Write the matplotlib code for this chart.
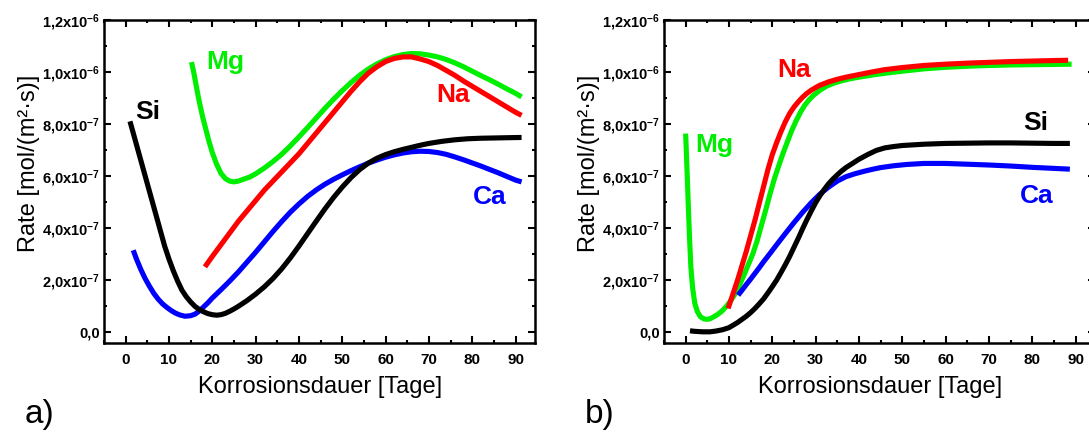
import numpy as np
import matplotlib
matplotlib.use("Agg")
import matplotlib.pyplot as plt
from matplotlib.ticker import MultipleLocator

plt.rcParams['font.family'] = ['Liberation Sans', 'DejaVu Sans']
plt.rcParams['mathtext.fontset'] = 'custom'
plt.rcParams['mathtext.rm'] = 'Liberation Sans:bold'
plt.rcParams['mathtext.it'] = 'Liberation Sans:bold'
plt.rcParams['mathtext.bf'] = 'Liberation Sans:bold'

# ---------------- data (rates in units of 1e-7 mol/(m^2 s)) ----------------
# panel a
a_si_days = [1, 2, 3, 4, 5, 6, 7, 8, 9, 10, 11, 12, 13, 14, 15, 16, 17, 18, 19, 20, 21, 22, 23, 24, 25, 26, 28, 30, 32, 34, 36, 38, 40, 42, 44, 46, 48, 50, 52, 54, 56, 58, 60, 62, 64, 66, 68, 70, 73, 76, 79, 82, 85, 88, 91.4]
a_si_rate = [8.1, 7.5, 6.9, 6.3, 5.7, 5.1, 4.5, 3.9, 3.3, 2.8, 2.35, 1.95, 1.6, 1.35, 1.15, 0.98, 0.86, 0.77, 0.7, 0.66, 0.64, 0.66, 0.71, 0.79, 0.88, 0.98, 1.2, 1.45, 1.73, 2.05, 2.42, 2.84, 3.3, 3.78, 4.26, 4.73, 5.17, 5.57, 5.93, 6.24, 6.49, 6.68, 6.82, 6.93, 7.02, 7.1, 7.18, 7.25, 7.33, 7.39, 7.43, 7.45, 7.46, 7.47, 7.48]

a_ca_days = [1.75, 2.5, 3.5, 4.5, 5.5, 6.5, 7.5, 8.5, 9.5, 10.5, 11.5, 12.5, 13.7, 15, 16, 17, 18, 19, 20, 22, 24, 26, 28, 30, 32, 34, 36, 38, 40, 42, 44, 46, 48, 50, 52, 54, 56, 58, 60, 62, 64, 66, 68, 70, 72, 74, 76, 78, 80, 82, 84, 86, 88, 90, 91.4]
a_ca_rate = [3.14, 2.8, 2.4, 2.05, 1.75, 1.48, 1.26, 1.08, 0.94, 0.82, 0.72, 0.65, 0.6, 0.62, 0.68, 0.8, 0.96, 1.12, 1.3, 1.62, 1.95, 2.3, 2.68, 3.06, 3.46, 3.86, 4.24, 4.6, 4.92, 5.21, 5.46, 5.68, 5.87, 6.04, 6.2, 6.35, 6.49, 6.61, 6.72, 6.81, 6.88, 6.93, 6.95, 6.94, 6.9, 6.83, 6.73, 6.62, 6.5, 6.38, 6.25, 6.12, 5.98, 5.84, 5.77]

a_na_days = [18.3, 20, 22, 24, 26, 28, 30, 32, 34, 36, 38, 40, 42, 44, 46, 48, 50, 52, 54, 56, 58, 60, 62, 64, 66, 68, 70, 72, 74, 76, 78, 80, 82, 84, 86, 88, 90, 91.4]
a_na_rate = [2.5, 2.9, 3.35, 3.8, 4.25, 4.65, 5.05, 5.45, 5.8, 6.15, 6.5, 6.85, 7.25, 7.65, 8.05, 8.45, 8.85, 9.25, 9.62, 9.95, 10.2, 10.4, 10.52, 10.58, 10.58, 10.5, 10.4, 10.25, 10.06, 9.87, 9.65, 9.45, 9.25, 9.05, 8.85, 8.65, 8.45, 8.33]

a_mg_days = [15.2, 15.7, 16.2, 16.7, 17.2, 17.8, 18.5, 19.2, 20, 21, 22, 23, 24, 25, 26, 27, 28.7, 30, 32, 34, 36, 38, 40, 42, 44, 46, 48, 50, 52, 54, 56, 58, 60, 62, 64, 66, 68, 70, 72, 74, 76, 78, 80, 82, 84, 86, 88, 90, 91.4]
a_mg_rate = [10.38, 10.0, 9.55, 9.1, 8.7, 8.25, 7.8, 7.35, 6.9, 6.45, 6.1, 5.9, 5.8, 5.77, 5.8, 5.86, 5.96, 6.08, 6.3, 6.55, 6.83, 7.15, 7.5, 7.86, 8.23, 8.6, 8.95, 9.28, 9.59, 9.87, 10.11, 10.31, 10.47, 10.59, 10.67, 10.71, 10.7, 10.65, 10.58, 10.48, 10.35, 10.2, 10.03, 9.86, 9.7, 9.53, 9.35, 9.18, 9.04]

# panel b
b_mg_days = [0, 0.3, 0.6, 0.9, 1.2, 1.6, 2.1, 2.7, 3.4, 4.2, 4.8, 5.6, 6.5, 7.5, 8.5, 9.5, 10.5, 11.5, 12.5, 13.5, 14.5, 15.5, 16.5, 17.5, 18.5, 19.5, 20.5, 21.5, 22.5, 23.5, 24.5, 25.5, 26.5, 27.5, 28.5, 29.5, 31, 32.5, 34, 36, 38, 40, 43, 46, 50, 55, 60, 65, 70, 75, 80, 85, 89.1]
b_mg_rate = [7.63, 6.3, 4.9, 3.6, 2.5, 1.7, 1.1, 0.78, 0.58, 0.5, 0.48, 0.5, 0.58, 0.68, 0.82, 1.0, 1.22, 1.48, 1.82, 2.2, 2.6, 3.0, 3.5, 4.1, 4.7, 5.32, 5.9, 6.4, 6.88, 7.32, 7.75, 8.12, 8.45, 8.72, 8.93, 9.1, 9.3, 9.45, 9.56, 9.66, 9.74, 9.8, 9.88, 9.95, 10.03, 10.12, 10.18, 10.22, 10.25, 10.27, 10.28, 10.29, 10.3]

b_na_days = [9.8, 11, 12, 13, 14, 15, 16, 17, 18, 19, 20, 21, 22, 23, 24, 25, 26, 27, 28, 29, 30, 31, 33, 35, 37, 40, 43, 46, 50, 55, 60, 65, 70, 75, 80, 85, 88.3]
b_na_rate = [0.9, 1.5, 2.0, 2.55, 3.1, 3.7, 4.3, 4.95, 5.6, 6.25, 6.82, 7.28, 7.7, 8.08, 8.4, 8.65, 8.85, 9.03, 9.18, 9.3, 9.4, 9.49, 9.62, 9.72, 9.8, 9.9, 10.0, 10.09, 10.17, 10.25, 10.3, 10.34, 10.37, 10.4, 10.42, 10.44, 10.45]

b_ca_days = [12.1, 13, 14, 15, 16, 17, 18, 19.5, 21, 23, 25, 27, 29, 31, 33, 35, 37, 39, 41, 43, 45, 48, 51, 55, 60, 65, 70, 75, 80, 85, 88.7]
b_ca_rate = [1.41, 1.6, 1.82, 2.03, 2.25, 2.47, 2.7, 3.02, 3.35, 3.78, 4.2, 4.6, 4.97, 5.3, 5.57, 5.8, 5.97, 6.08, 6.17, 6.25, 6.32, 6.39, 6.44, 6.48, 6.48, 6.45, 6.42, 6.38, 6.33, 6.29, 6.26]

b_si_days = [1, 2, 3, 4, 5.6, 7, 8.5, 10, 11, 12, 13, 14, 15, 16, 17, 18, 19, 20, 21, 22, 23, 24, 25, 26, 27, 28, 29, 30, 31, 32, 33, 34, 35, 36, 37, 38.7, 40, 42, 44, 46, 48, 50, 55, 60, 65, 70, 75, 80, 85, 88.7]
b_si_rate = [0.04, 0.02, 0.01, 0.0, 0.0, 0.03, 0.08, 0.16, 0.26, 0.36, 0.48, 0.6, 0.74, 0.9, 1.08, 1.27, 1.5, 1.74, 1.99, 2.28, 2.58, 2.9, 3.25, 3.6, 3.97, 4.32, 4.65, 4.97, 5.24, 5.48, 5.7, 5.88, 6.04, 6.19, 6.32, 6.5, 6.64, 6.82, 6.98, 7.08, 7.13, 7.17, 7.22, 7.25, 7.26, 7.27, 7.27, 7.26, 7.25, 7.25]

rate_unit = 1e-7

x_ticks = [0, 10, 20, 30, 40, 50, 60, 70, 80, 90]
y_ticks = [0, 2e-7, 4e-7, 6e-7, 8e-7, 1e-6, 1.2e-6]
y_ticklabels = ["0,0", "2,0x10$^{-7}$", "4,0x10$^{-7}$", "6,0x10$^{-7}$",
                "8,0x10$^{-7}$", "1,0x10$^{-6}$", "1,2x10$^{-6}$"]

element_colors = {"Si": "#000000", "Ca": "#0000ff", "Na": "#ff0000", "Mg": "#00ee00"}

x_label = "Korrosionsdauer [Tage]"
y_label = "Rate [mol/(m²·s)]"

# ---------------- figure ----------------
W, H = 1089, 441
fig = plt.figure(figsize=(W / 100, H / 100), dpi=100)

def px_axes(left, top, right, bottom):
    return [left / W, (H - bottom) / H, (right - left) / W, (bottom - top) / H]

ax_a = fig.add_axes(px_axes(104, 20, 535, 343))
ax_b = fig.add_axes(px_axes(664, 20, 1095, 343))

panels = {
    ax_a: {"Si": (a_si_days, a_si_rate), "Ca": (a_ca_days, a_ca_rate),
           "Na": (a_na_days, a_na_rate), "Mg": (a_mg_days, a_mg_rate)},
    ax_b: {"Mg": (b_mg_days, b_mg_rate), "Na": (b_na_days, b_na_rate),
           "Ca": (b_ca_days, b_ca_rate), "Si": (b_si_days, b_si_rate)},
}
draw_order = ["Mg", "Na", "Ca", "Si"]

label_pos = {
    ax_a: {"Mg": (23.0, 10.4), "Si": (5.0, 8.45), "Na": (75.6, 9.1), "Ca": (84.0, 5.2)},
    ax_b: {"Na": (25.0, 10.06), "Mg": (6.5, 7.18), "Si": (80.9, 8.03), "Ca": (81.1, 5.22)},
}

for ax in (ax_a, ax_b):
    for name in draw_order:
        d, r = panels[ax][name]
        ax.plot(d, np.array(r) * rate_unit, color=element_colors[name], lw=3.7,
                solid_capstyle='butt', solid_joinstyle='round')
    for name, (xd, yd) in label_pos[ax].items():
        ax.text(xd, yd * rate_unit, name, color=element_colors[name], fontsize=19,
                fontweight='bold', ha='center', va='center')
    ax.set_xlim(-5, 94.5)
    ax.set_ylim(-0.43e-7, 1.2e-6)
    ax.set_xticks(x_ticks)
    ax.set_xticklabels([str(t) for t in x_ticks], fontweight='bold', fontsize=11)
    ax.set_yticks(y_ticks)
    ax.set_yticklabels(y_ticklabels, fontweight='bold', fontsize=10.5)
    ax.xaxis.set_minor_locator(MultipleLocator(5))
    ax.yaxis.set_minor_locator(MultipleLocator(1e-7))
    ax.tick_params(which='both', direction='in', top=True, right=True, width=1.5)
    ax.tick_params(which='major', length=5)
    ax.tick_params(which='minor', length=2.5)
    ax.tick_params(axis='x', pad=7)
    ax.tick_params(axis='y', pad=3)
    for sp in ax.spines.values():
        sp.set_linewidth(1.8)

# axis labels
for cx in (320, 880):
    fig.text(cx / W, 1 - 387 / H, x_label, fontsize=17, ha='center', va='center')
for cx in (29, 589):
    fig.text(cx / W, 1 - 163 / H, y_label, fontsize=17, ha='center', va='center', rotation=90)

# panel letters
fig.text(25 / W, 1 - 415 / H, "a)", fontsize=24, ha='left', va='center')
fig.text(585 / W, 1 - 415 / H, "b)", fontsize=24, ha='left', va='center')

fig.savefig("out.png", dpi=100)
